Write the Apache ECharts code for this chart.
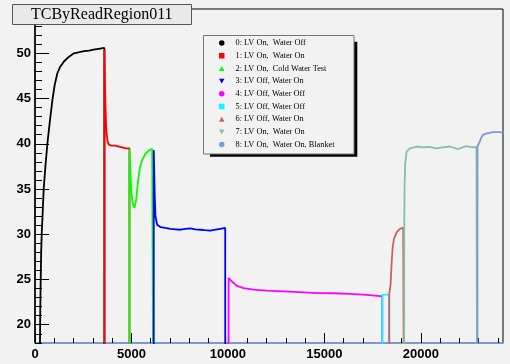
<!DOCTYPE html>
<html>
<head>
<meta charset="utf-8">
<script src="https://cdn.jsdelivr.net/npm/echarts@6/dist/echarts.min.js"></script>
<style>
html,body{margin:0;padding:0;background:#f2f2f2;}
#c{width:510px;height:364px;}
</style>
</head>
<body>
<div id="c"></div>
<script>
// ---- data ----
const titleText = 'TCByReadRegion011';
const seriesNames = [
  '0: LV On,  Water Off',
  '1: LV On,  Water On',
  '2: LV On,  Cold Water Test',
  '3: LV Off, Water On',
  '4: LV Off, Water Off',
  '5: LV Off, Water Off',
  '6: LV Off, Water On',
  '7: LV On,  Water On',
  '8: LV On,  Water On, Blanket'
];
const seriesColors = ['#000000','#ff0000','#00ff00','#0000ff','#ff00ff','#00ffff','#cf5e61','#85c2a3','#7d99d1'];
const legendIcons = ['circle','square','up','down','circle','square','up','down','circle'];

const s0 = [[240,0],[255,17],[270,21],[295,25],[320,28],[347,30],[390,32],[450,35],[540,37.5],[641,40],[760,42.3],[900,44.8],[1020,46.5],[1159,47.8],[1300,48.5],[1500,49.1],[1750,49.6],[2017,50.0],[2250,50.1],[2535,50.25],[2800,50.3],[3036,50.4],[3300,50.5],[3595,50.6],[3600,0]];
const s1 = [[3600,0],[3603,50.4],[3630,46.5],[3657,44.1],[3680,42.4],[3709,41.2],[3760,40.3],[3828,39.9],[3950,39.8],[4050,39.9],[4175,39.8],[4350,39.7],[4521,39.6],[4700,39.5],[4895,39.5],[4898,0]];
const s2 = [[4898,0],[4900,39.4],[4950,36.8],[5002,34.5],[5069,33.4],[5157,32.9],[5245,33.8],[5328,35.6],[5431,37.3],[5555,38.2],[5726,38.9],[5897,39.25],[6072,39.45],[6150,39.5],[6155,0]];
const s3 = [[6155,0],[6157,39.3],[6207,34.2],[6243,32.0],[6331,31.05],[6501,30.8],[6750,30.7],[7018,30.6],[7300,30.55],[7536,30.5],[7800,30.6],[8053,30.65],[8300,30.55],[8570,30.5],[8800,30.45],[9088,30.4],[9350,30.5],[9605,30.6],[9860,30.7],[9864,0]];
const s4 = [[10035,0],[10037,25.16],[10210,24.78],[10469,24.3],[10810,24.05],[11328,23.87],[12021,23.76],[12880,23.68],[13743,23.6],[14607,23.5],[15466,23.48],[16330,23.4],[17193,23.3],[17881,23.15],[18000,23.15],[18003,0]];
const s5 = [[18003,0],[18005,23.3],[18200,23.32],[18360,23.35],[18362,0]];
const s6 = [[18362,0],[18364,23.4],[18398,23.6],[18434,24.5],[18486,26.8],[18538,28.5],[18605,29.5],[18745,30.2],[18915,30.6],[19086,30.75],[19136,30.8],[19138,0]];
const s7 = [[19138,0],[19140,30.8],[19160,35.5],[19190,37.8],[19262,39.1],[19433,39.5],[19780,39.7],[20100,39.6],[20450,39.65],[20814,39.5],[21150,39.6],[21502,39.7],[21750,39.55],[21931,39.4],[22150,39.6],[22366,39.75],[22650,39.6],[22883,39.65],[22933,39.7],[22935,0]];
const s8 = [[22935,0],[22937,39.7],[22965,39.8],[23053,40.25],[23140,40.7],[23224,40.98],[23350,41.1],[23483,41.17],[23741,41.28],[24088,41.3],[24259,41.2]];
const seriesData = [s0,s1,s2,s3,s4,s5,s6,s7,s8];

const xMajorTicks = [0,5000,10000,15000,20000];
const xMinorTicks = [0,1000,2000,3000,4000,5000,6000,7000,8000,9000,10000,11000,12000,13000,14000,15000,16000,17000,18000,19000,20000,21000,22000,23000,24000];
const yMajorTicks = [20,25,30,35,40,45,50];
const yMinorTicks = [18,19,20,21,22,23,24,25,26,27,28,29,30,31,32,33,34,35,36,37,38,39,40,41,42,43,44,45,46,47,48,49,50,51,52,53,54];
const xRange = [0, 24260];
const yRange = [17.98, 54.9];

// ---- chart ----
const iconPaths = {
  circle: 'circle',
  square: 'path://M0,0H10V10H0Z',
  up: 'path://M5,0L10,9L0,9Z',
  down: 'path://M0,0L10,0L5,9Z'
};
const chart = echarts.init(document.getElementById('c'), null, {renderer:'canvas'});
const labelFont = {fontFamily:'Liberation Sans', fontSize:13, fontWeight:'bold', color:'#000'};

const option = {
  animation: false,
  backgroundColor: '#f2f2f2',
  title: {
    text: titleText, left: 12, top: 4,
    padding: [2, 19, 2, 19],
    backgroundColor: '#e9e9e9', borderColor: '#555', borderWidth: 1,
    textStyle: {fontFamily:'Liberation Serif', fontSize:16, fontWeight:'normal', color:'#000', lineHeight:17}
  },
  graphic: [
    {type:'rect', z: 3, shape:{x:210, y:41.7, width:147.3, height:115}, style:{fill:'#000'}},
    {type:'rect', z: 3, shape:{x:203.5, y:35.5, width:150.5, height:118.5}, style:{fill:'#f2f2f2', stroke:'#777', lineWidth:1}}
  ],
  legend: {
    orient:'vertical', left: 219, top: 38, z: 5, padding: 0,
    itemWidth: 5.5, itemHeight: 5.5, itemGap: 2.7,
    data: seriesNames.map((n,i)=>({name:n, icon: iconPaths[legendIcons[i]]})),
    formatter: name => '{g|}' + name,
    textStyle: {fontFamily:'Liberation Serif', fontSize:8.3, color:'#000', lineHeight:10,
      rich: {g:{width:6}}},
    selectedMode: false
  },
  grid: {left:35, right:7, top:9, bottom:21, show:true, borderColor:'#000', borderWidth:1, backgroundColor:'transparent'},
  xAxis: [
    {type:'value', min:xRange[0], max:xRange[1], position:'bottom',
     axisLine:{show:true, onZero:false, lineStyle:{color:'#7d99d1', width:2}},
     axisTick:{show:true, inside:true, length:10, customValues:xMajorTicks, lineStyle:{color:'#000', width:1}},
     axisLabel:Object.assign({customValues:xMajorTicks, margin:5, formatter: v => String(v)}, labelFont),
     splitLine:{show:false}},
    {type:'value', min:xRange[0], max:xRange[1], position:'bottom',
     axisLine:{show:false, onZero:false},
     axisTick:{show:true, inside:true, length:5, customValues:xMinorTicks, lineStyle:{color:'#000', width:1}},
     axisLabel:{show:false}, splitLine:{show:false}}
  ],
  yAxis: [
    {type:'value', min:yRange[0], max:yRange[1], position:'left',
     axisLine:{show:true, onZero:false, lineStyle:{color:'#000', width:1.5}},
     axisTick:{show:true, inside:true, length:14, customValues:yMajorTicks, lineStyle:{color:'#000', width:1}},
     axisLabel:Object.assign({customValues:yMajorTicks, margin:4, formatter: v => String(v)}, labelFont),
     splitLine:{show:false}},
    {type:'value', min:yRange[0], max:yRange[1], position:'left',
     axisLine:{show:false, onZero:false},
     axisTick:{show:true, inside:true, length:7, customValues:yMinorTicks, lineStyle:{color:'#000', width:1}},
     axisLabel:{show:false}, splitLine:{show:false}}
  ],
  series: seriesData.map((d,i)=>({
    name: seriesNames[i], type:'line', data:d, xAxisIndex:0, yAxisIndex:0,
    showSymbol:false, symbol:'none', clip:true,
    color: seriesColors[i],
    lineStyle:{color:seriesColors[i], width:1.8},
    z: 2
  }))
};
chart.setOption(option);
</script>
</body>
</html>
